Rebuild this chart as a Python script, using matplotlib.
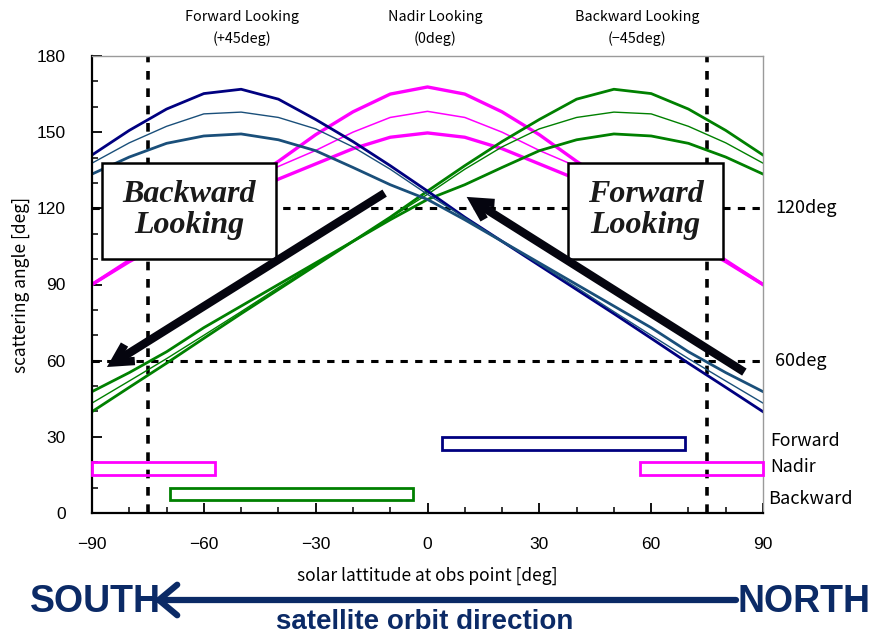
import matplotlib
matplotlib.use("Agg")
import matplotlib.pyplot as plt
from matplotlib.patches import Rectangle, FancyArrowPatch
from matplotlib.ticker import MultipleLocator

# solar latitude grid [deg]
lat = [-90, -80, -70, -60, -50, -40, -30, -20, -10, 0, 10, 20, 30, 40, 50, 60, 70, 80, 90]

# forward looking (+45deg) scattering angle [deg]
fwd_hi = [141.0, 150.7, 159.1, 165.2, 166.9, 163.0, 155.0, 146.3, 136.8, 126.8, 116.5, 107.0, 97.5, 88.0, 78.5, 68.8, 59.0, 49.5, 39.9]
fwd_mid = [137.8, 145.8, 152.3, 157.2, 157.9, 155.8, 151.3, 144.2, 135.4, 125.5, 116.3, 107.0, 98.0, 88.8, 79.3, 70.0, 60.8, 52.0, 43.3]
fwd_lo = [133.5, 140.2, 145.6, 148.5, 149.3, 147.0, 142.7, 136.1, 129.3, 123.5, 115.5, 107.0, 98.5, 90.0, 81.5, 73.0, 63.5, 55.3, 47.8]

# nadir looking (0deg)
nad_hi = [90.0, 99.5, 109.0, 119.0, 129.0, 138.5, 149.0, 158.0, 165.0, 167.8, 165.0, 158.0, 149.0, 138.5, 129.0, 119.0, 109.0, 99.5, 90.0]
nad_mid = [90.0, 99.3, 108.5, 118.0, 127.5, 136.5, 142.8, 150.0, 155.8, 158.2, 155.8, 150.0, 142.8, 136.5, 127.5, 118.0, 108.5, 99.3, 90.0]
nad_lo = [90.0, 99.0, 107.0, 115.5, 123.5, 131.5, 137.5, 143.5, 148.0, 149.7, 148.0, 143.5, 137.5, 131.5, 123.5, 115.5, 107.0, 99.0, 90.0]

# backward looking (-45deg)
bwd_hi = [39.9, 49.5, 59.0, 68.8, 78.5, 88.0, 97.5, 107.0, 116.5, 126.8, 136.8, 146.3, 155.0, 163.0, 166.9, 165.2, 159.1, 150.7, 141.0]
bwd_mid = [43.3, 52.0, 60.8, 70.0, 79.3, 88.8, 98.0, 107.0, 116.3, 125.5, 135.4, 144.2, 151.3, 155.8, 157.9, 157.2, 152.3, 145.8, 137.8]
bwd_lo = [47.8, 55.3, 63.5, 73.0, 81.5, 90.0, 98.5, 107.0, 115.5, 123.5, 129.3, 136.1, 142.7, 147.0, 149.3, 148.5, 145.6, 140.2, 133.5]

# latitude coverage of each view (start, end) and its bar level [deg]
fwd_cover = [(4, 69)]
nad_cover = [(-90, -57), (57, 90)]
bwd_cover = [(-69, -4)]
bar_level = {"Forward": (25, 30), "Nadir": (15, 20), "Backward": (5, 10)}

x_ticks = [-90, -60, -30, 0, 30, 60, 90]
y_ticks = [0, 30, 60, 90, 120, 150, 180]
ref_lat = [-75, 75]
ref_angle = [120, 60]

W, H = 873, 636
fig = plt.figure(figsize=(W / 100, H / 100), dpi=100)
ax = fig.add_axes([92 / W, 1 - 513 / H, (763 - 92) / W, (513 - 56) / H])

gothic = ["Noto Sans CJK JP", "DejaVu Sans"]
navy = "#000080"
steel = "#1a4f7a"
magenta = "#ff00ff"
green = "#008000"

# reference dashed lines
for v in ref_lat:
    ax.axvline(v, color="black", lw=2.6, ls=(0, (2.4, 2.4)), zorder=1)
for h in ref_angle:
    ax.axhline(h, color="black", lw=2.2, ls=(0, (2.4, 2.4)), zorder=1)

# scattering-angle curves
ax.plot(lat, nad_hi, color=magenta, lw=2.4, zorder=2)
ax.plot(lat, nad_mid, color=magenta, lw=1.1, zorder=2)
ax.plot(lat, nad_lo, color=magenta, lw=2.4, zorder=2)
ax.plot(lat, bwd_hi, color=green, lw=2.0, zorder=2)
ax.plot(lat, bwd_mid, color=green, lw=1.0, zorder=2)
ax.plot(lat, bwd_lo, color=green, lw=2.0, zorder=2)
ax.plot(lat, fwd_hi, color=navy, lw=2.0, zorder=2)
ax.plot(lat, fwd_mid, color=steel, lw=1.0, zorder=2)
ax.plot(lat, fwd_lo, color=steel, lw=2.0, zorder=2)

# coverage bars
def cover_bars(spans, level, color):
    lo, hi = level
    for a, b in spans:
        ax.add_patch(Rectangle((a, lo), b - a, hi - lo, fill=False,
                               edgecolor=color, lw=2.0, zorder=3, clip_on=False))

cover_bars(fwd_cover, bar_level["Forward"], navy)
cover_bars(nad_cover, bar_level["Nadir"], magenta)
cover_bars(bwd_cover, bar_level["Backward"], green)

ax.set_xlim(-90, 90)
ax.set_ylim(0, 180)
ax.set_xticks(x_ticks)
ax.set_yticks(y_ticks)
ax.xaxis.set_minor_locator(MultipleLocator(10))
ax.yaxis.set_minor_locator(MultipleLocator(10))
ax.tick_params(which="major", direction="in", length=7, width=1.3, colors="black",
               labelsize=12.5)
ax.tick_params(axis="x", which="major", pad=17)
ax.tick_params(axis="y", which="major", pad=19)
ax.tick_params(which="minor", direction="in", length=4, width=1.1)
for lab in ax.get_xticklabels() + ax.get_yticklabels():
    lab.set_family("Liberation Sans")
ax.spines["left"].set_linewidth(1.6)
ax.spines["bottom"].set_linewidth(1.6)
ax.spines["top"].set_color("#9a9a9a")
ax.spines["right"].set_color("#9a9a9a")
ax.spines["top"].set_linewidth(1.0)
ax.spines["right"].set_linewidth(1.0)

ax.set_xlabel("solar lattitude at obs point [deg]", family=gothic, fontsize=12.5, labelpad=11)
ax.set_ylabel("scattering angle [deg]", family=gothic, fontsize=12.5, labelpad=5)

# view direction headers
for xp, txt in [(242, "Forward Looking\n(+45deg)"), (435, "Nadir Looking\n(0deg)"),
                (637, "Backward Looking\n(\u221245deg)")]:
    fig.text(xp / W, 1 - 28 / H, txt, family=gothic, fontsize=10.3, ha="center",
             va="center", linespacing=1.7)

# right-side labels
tr = ax.get_yaxis_transform()
ax.text(1.018, 120, "120deg", transform=tr, family=gothic, fontsize=13, va="center")
ax.text(1.018, 60, "60deg", transform=tr, family=gothic, fontsize=13, va="center")
fig.text(770 / W, 1 - 441 / H, "Forward", family=gothic, fontsize=12.8, va="center")
fig.text(770 / W, 1 - 467 / H, "Nadir", family=gothic, fontsize=12.8, va="center")
fig.text(768 / W, 1 - 499 / H, "Backward", family=gothic, fontsize=13, va="center")

# direction boxes (lat0, lat1, angle0, angle1) with their captions
for (x0, x1, y0, y1), caption in [((-87.3, -40.6, 100, 137.8), "Backward\nLooking"),
                                   ((37.7, 79.3, 100, 137.8), "Forward\nLooking")]:
    ax.add_patch(Rectangle((x0, y0), x1 - x0, y1 - y0, facecolor="white",
                           edgecolor="black", lw=1.8, zorder=5))
    ax.text((x0 + x1) / 2, (y0 + y1) / 2 + 0.5, caption, family="Liberation Serif",
            style="italic", weight="bold", fontsize=23, color="#1a1a1a",
            ha="center", va="center", linespacing=1.1, zorder=6)

# sweep arrows
arrow = dict(arrowstyle="->,head_length=1.3,head_width=0.7", color="#05050f", lw=6,
             shrinkA=0, shrinkB=0, capstyle="butt", joinstyle="miter")
ax.annotate("", xy=(-86, 57.5), xytext=(-11.5, 126), arrowprops=arrow, zorder=7)
ax.annotate("", xy=(10.5, 124.5), xytext=(85, 55.5), arrowprops=arrow, zorder=7)

# orbit direction banner
dark_blue = "#0b2a66"
fig.text(95 / W, 1 - 602 / H, "SOUTH", family="Liberation Sans", weight="bold",
         fontsize=27, color=dark_blue, ha="center", va="center")
fig.text(804 / W, 1 - 602 / H, "NORTH", family="Liberation Sans", weight="bold",
         fontsize=27, color=dark_blue, ha="center", va="center")
fig.text(425 / W, 1 - 622 / H, "satellite orbit direction", family="Liberation Sans",
         weight="bold", fontsize=20, color=dark_blue, ha="center", va="center")
fig.patches.append(FancyArrowPatch(
    (736 / W, 1 - 600 / H), (154 / W, 1 - 600 / H), transform=fig.transFigure,
    arrowstyle="->,head_length=0.6,head_width=0.5", mutation_scale=22,
    color=dark_blue, lw=4.5, shrinkA=0, shrinkB=0))

fig.savefig("out.png", dpi=100, facecolor="white")
